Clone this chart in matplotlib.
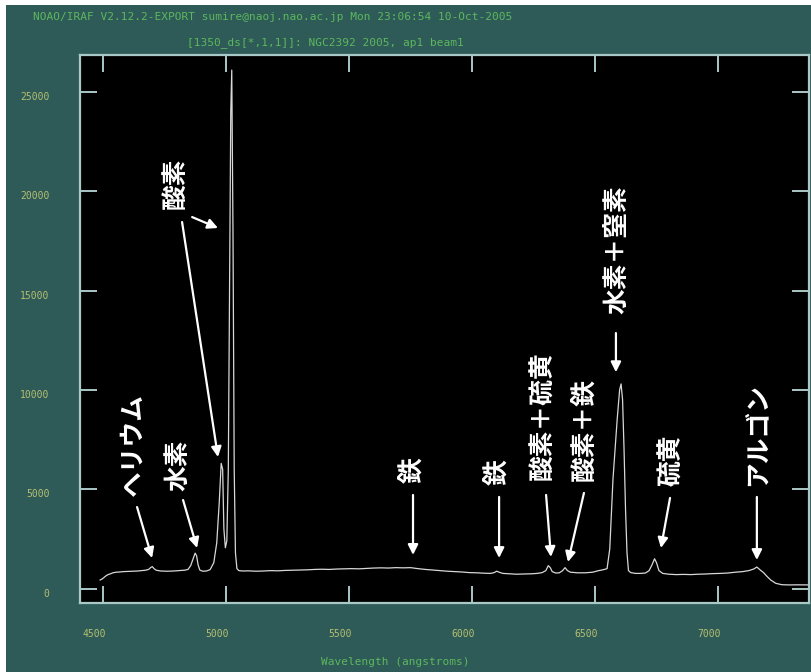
import matplotlib
matplotlib.use("Agg")
import matplotlib.pyplot as plt
from matplotlib.patches import Rectangle
from matplotlib.transforms import ScaledTranslation

# ---- data ----
wavelength = [4488, 4496, 4504, 4512, 4520, 4530, 4540, 4552, 4566, 4582, 4600, 4620, 4640, 4658,
              4672, 4685, 4694, 4700, 4707, 4716, 4735, 4760, 4785, 4810, 4830, 4845, 4856, 4866,
              4874, 4880, 4886, 4893, 4905, 4920, 4935, 4950, 4962, 4972, 4980, 4986, 4991, 4997,
              5003, 5009, 5014, 5019, 5023, 5028, 5033, 5038, 5044, 5052, 5070, 5090, 5120, 5150,
              5180, 5210, 5240, 5270, 5300, 5330, 5360, 5390, 5420, 5450, 5480, 5510, 5540, 5570,
              5600, 5630, 5660, 5690, 5720, 5750, 5780, 5810, 5840, 5870, 5900, 5930, 5960, 5990,
              6020, 6050, 6075, 6090, 6100, 6110, 6125, 6150, 6180, 6210, 6240, 6265, 6285, 6300,
              6310, 6318, 6326, 6340, 6355, 6368, 6378, 6388, 6400, 6430, 6460, 6490, 6515, 6535,
              6549, 6560, 6573, 6590, 6600, 6606, 6612, 6618, 6624, 6630, 6636, 6645, 6665, 6685,
              6705, 6720, 6732, 6742, 6750, 6760, 6775, 6800, 6830, 6860, 6890, 6920, 6950, 6980,
              7010, 7040, 7070, 7100, 7125, 7145, 7158, 7170, 7185, 7200, 7215, 7235, 7260, 7290,
              7320, 7350, 7370]
flux = [430, 480, 560, 640, 700, 740, 790, 820, 830, 850, 860, 870, 880, 900,
        920, 960, 1060, 1100, 1000, 920, 880, 870, 880, 900, 920, 960, 1150, 1500,
        1780, 1650, 1200, 930, 870, 880, 950, 1300, 2300, 4300, 6300, 6000, 3000, 2050,
        2400, 6000, 15000, 24000, 26100, 18000, 6000, 1800, 1000, 900, 880, 890, 870, 880,
        900, 890, 910, 920, 930, 940, 960, 970, 960, 980, 990, 1000, 990, 1010,
        1030, 1040, 1030, 1050, 1040, 1050, 1000, 960, 930, 900, 870, 850, 830, 800,
        790, 770, 760, 800, 870, 820, 760, 740, 720, 730, 740, 760, 800, 900,
        1150, 1050, 850, 780, 790, 900, 1050, 900, 820, 790, 790, 820, 900, 950,
        1000, 2000, 5500, 8500, 10000, 10300, 9500, 7000, 4000, 1800, 900, 800, 760, 760,
        780, 900, 1200, 1500, 1300, 900, 760, 720, 700, 710, 700, 720, 730, 750,
        760, 780, 820, 850, 900, 980, 1080, 950, 800, 600, 420, 260, 190, 180,
        185, 180, 180]

x_ticks = [4500, 5000, 5500, 6000, 6500, 7000]
y_ticks = [0, 5000, 10000, 15000, 20000, 25000]

# annotations: label, text position, list of (arrow tail, arrow head)
labels = ["ヘリウム", "水素", "酸素", "鉄", "鉄", "酸素＋硫黄", "酸素＋鉄", "水素＋窒素", "硫黄", "アルゴン"]
label_pos = [(4622, 7225), (4805, 6220), (4793, 20415), (5760, 5970), (6106, 5870),
             (6289, 8685), (6459, 7980), (6589, 17040), (6813, 6470), (7163, 7730)]
arrows = [[((4638, 4100), (4699, 1535))],
          [((4825, 4455), (4882, 2040))],
          [((4821, 18450), (4967, 6620)), ((4862, 18700), (4967, 18150))],
          [((5760, 4710), (5760, 1690))],
          [((6110, 4610), (6110, 1535))],
          [((6301, 4710), (6321, 1590))],
          [((6455, 4810), (6390, 1335))],
          [((6585, 12860), (6585, 10890))],
          [((6805, 4560), (6768, 2040))],
          [((7158, 4610), (7158, 1435))]]

header1 = "NOAO/IRAF V2.12.2-EXPORT sumire@naoj.nao.ac.jp Mon 23:06:54 10-Oct-2005"
header2 = "[1350_ds[*,1,1]]: NGC2392 2005, ap1 beam1"
xlabel = "Wavelength (angstroms)"

# ---- figure ----
W, H = 811, 672
fig = plt.figure(figsize=(W / 100, H / 100), dpi=100, facecolor="white")
bg = "#2e5a58"
fig.patches.append(Rectangle((6 / W, 0), 1 - 6 / W, 1 - 5 / H, transform=fig.transFigure,
                             facecolor=bg, edgecolor="none", zorder=-10))

ax = fig.add_axes([80 / W, 1 - 603 / H, 729 / W, 548 / H])
ax.set_facecolor("black")
ax.plot(wavelength, flux, color="#d8d8d8", lw=0.9)
ax.set_xlim(4406, 7370)
ax.set_ylim(-730, 26860)
ax.set_xticks(x_ticks)
ax.set_yticks(y_ticks)
frame_c = "#a9c9c6"
for s in ax.spines.values():
    s.set_color(frame_c)
    s.set_linewidth(1.6)
ax.tick_params(direction="in", length=12, width=1.4, color=frame_c,
               top=True, right=True, labelsize=7, labelcolor="#b4c070")
ax.tick_params(axis="x", pad=19)
ax.tick_params(axis="y", pad=22)
for t in ax.get_xticklabels():
    t.set_family("DejaVu Sans Mono")
    t.set_transform(t.get_transform() + ScaledTranslation(-9 / 100, 0, fig.dpi_scale_trans))
for t in ax.get_yticklabels():
    t.set_family("DejaVu Sans Mono")
    t.set_transform(t.get_transform() + ScaledTranslation(0, -4 / 100, fig.dpi_scale_trans))

jp = ["Noto Sans CJK JP", "DejaVu Sans"]
for lab, pos, arrs in zip(labels, label_pos, arrows):
    ax.text(pos[0], pos[1], lab, rotation=90, ha="center", va="center", color="white",
            fontsize=18.5, fontweight="bold", family=jp)
    for tail, head in arrs:
        ax.annotate("", xy=head, xytext=tail,
                    arrowprops=dict(arrowstyle="-|>", color="white", lw=1.6,
                                    mutation_scale=15, shrinkA=0, shrinkB=0))

fig.text(33 / W, 1 - 17 / H, header1, color="#5cb85c", fontsize=8, family="DejaVu Sans Mono",
         ha="left", va="center")
fig.text(187 / W, 1 - 43 / H, header2, color="#5cb85c", fontsize=8, family="DejaVu Sans Mono",
         ha="left", va="center")
fig.text(395 / W, 1 - 662 / H, xlabel, color="#5cb85c", fontsize=8, family="DejaVu Sans Mono",
         ha="center", va="center")

fig.savefig("out.png", dpi=100, facecolor=fig.get_facecolor())
